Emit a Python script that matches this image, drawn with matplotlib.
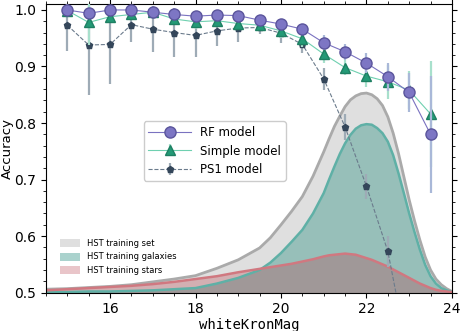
import numpy as np
import matplotlib
matplotlib.use("Agg")
import matplotlib.pyplot as plt
from matplotlib.ticker import MultipleLocator
from matplotlib.patches import Patch

# ---- data ----
mag = [15.0, 15.5, 16.0, 16.5, 17.0, 17.5, 18.0, 18.5, 19.0, 19.5, 20.0,
       20.5, 21.0, 21.5, 22.0, 22.5, 23.0, 23.5]
rf_acc = [1.0, 0.994, 1.0, 1.0, 0.996, 0.992, 0.989, 0.991, 0.990, 0.982,
          0.975, 0.966, 0.942, 0.926, 0.906, 0.882, 0.854, 0.780]
rf_err = [0.004, 0.006, 0.004, 0.004, 0.005, 0.006, 0.006, 0.006, 0.006, 0.008,
          0.009, 0.010, 0.013, 0.014, 0.018, 0.025, 0.034, 0.104]
simple_acc = [0.999, 0.978, 0.988, 0.992, 0.996, 0.984, 0.979, 0.981, 0.976, 0.973,
              0.963, 0.949, 0.922, 0.898, 0.883, 0.873, 0.858, 0.816]
simple_err = [0.005, 0.040, 0.010, 0.008, 0.006, 0.010, 0.012, 0.010, 0.010, 0.010,
              0.012, 0.014, 0.016, 0.013, 0.020, 0.030, 0.034, 0.094]
ps1_mag = [15.0, 15.5, 16.0, 16.5, 17.0, 17.5, 18.0, 18.5, 19.0, 19.5, 20.0,
           20.5, 21.0, 21.5, 22.0, 22.5, 23.0]
ps1_acc = [0.973, 0.938, 0.939, 0.974, 0.966, 0.960, 0.955, 0.963, 0.968, 0.969,
           0.959, 0.939, 0.878, 0.793, 0.688, 0.573, 0.380]
ps1_err = [0.045, 0.088, 0.070, 0.030, 0.041, 0.044, 0.038, 0.027, 0.024, 0.012,
           0.018, 0.016, 0.019, 0.023, 0.022, 0.027, 0.030]

kde_mag = [14.5, 15.0, 15.5, 16.0, 16.5, 17.0, 17.5, 18.0, 18.5, 19.0, 19.5, 19.75,
           20.0, 20.25, 20.5, 20.75, 21.0, 21.125, 21.25, 21.375, 21.5, 21.625,
           21.75, 21.875, 22.0, 22.125, 22.25, 22.375, 22.5, 22.625, 22.75, 22.875,
           23.0, 23.125, 23.25, 23.375, 23.5, 23.625, 23.75, 23.875, 24.0]
kde_all = [0.506, 0.507, 0.509, 0.511, 0.514, 0.519, 0.524, 0.530, 0.543, 0.558, 0.579, 0.597,
           0.620, 0.644, 0.670, 0.706, 0.749, 0.772, 0.794, 0.812, 0.829, 0.841,
           0.848, 0.852, 0.853, 0.850, 0.843, 0.831, 0.811, 0.782, 0.746, 0.705,
           0.664, 0.627, 0.593, 0.563, 0.540, 0.524, 0.514, 0.507, 0.502]
kde_gal = [0.501, 0.501, 0.502, 0.502, 0.503, 0.504, 0.506, 0.508, 0.516, 0.526, 0.540, 0.553,
           0.570, 0.590, 0.611, 0.640, 0.676, 0.700, 0.723, 0.745, 0.764, 0.779,
           0.790, 0.796, 0.798, 0.797, 0.791, 0.782, 0.767, 0.743, 0.711, 0.676,
           0.640, 0.607, 0.576, 0.549, 0.529, 0.516, 0.508, 0.504, 0.501]
kde_star = [0.504, 0.506, 0.508, 0.510, 0.512, 0.515, 0.519, 0.524, 0.529, 0.536, 0.542, 0.545,
            0.548, 0.551, 0.555, 0.559, 0.564, 0.566, 0.567, 0.568, 0.569, 0.568,
            0.567, 0.564, 0.561, 0.558, 0.554, 0.550, 0.546, 0.541, 0.536, 0.531,
            0.526, 0.521, 0.516, 0.512, 0.508, 0.505, 0.503, 0.502, 0.501]
base = 0.5

fig = plt.figure(figsize=(4.64, 3.31), dpi=100)
ax = fig.add_axes([0.099, 0.116, 0.875, 0.871])

# KDE fills
ax.fill_between(kde_mag, base, kde_all, color="#c0c0c0", alpha=0.5, lw=0, zorder=1)
ax.plot(kde_mag, kde_all, color="#aaaaaa", lw=2, zorder=2, solid_joinstyle="round")
ax.fill_between(kde_mag, base, kde_gal, color="#2b8f82", alpha=0.4, lw=0, zorder=1)
ax.plot(kde_mag, kde_gal, color="#5fb0a6", lw=1.8, zorder=2, solid_joinstyle="round")
ax.fill_between(kde_mag, base, kde_star, color="#b8404c", alpha=0.3, lw=0, zorder=1)
ax.plot(kde_mag, kde_star, color="#d07880", lw=1.8, zorder=2, solid_joinstyle="round")

# accuracy curves
ps1 = ax.errorbar(ps1_mag, ps1_acc, yerr=ps1_err, fmt="p", ls="--", lw=0.8,
                  color="#6b7b8c", mfc="#34465a", mec="#34465a", ms=5,
                  ecolor="#9eabb6", elinewidth=1.6, zorder=4, label="PS1 model")
simple = ax.errorbar(mag, simple_acc, yerr=simple_err, fmt="^", ls="-", lw=0.8,
                     color="#6fd0b0", mfc="#239a76", mec="#1e7f62", ms=6.5,
                     ecolor="#a8e0cc", elinewidth=1.6, zorder=5, label="Simple model")
rf = ax.errorbar(mag, rf_acc, yerr=rf_err, fmt="o", ls="-", lw=0.8,
                 color="#7a72c0", mfc="#7d76c4", mec="#5b559c", ms=8,
                 ecolor="#a9b8d8", elinewidth=1.6, zorder=6, label="RF model")

ax.set_xlim(14.5, 24)
ax.set_ylim(0.5, 1.01)
ax.xaxis.set_major_locator(MultipleLocator(2))
ax.xaxis.set_minor_locator(MultipleLocator(0.5))
ax.yaxis.set_major_locator(MultipleLocator(0.1))
ax.yaxis.set_minor_locator(MultipleLocator(0.02))
ax.tick_params(which="both", direction="out", top=True, right=True, labelsize=10)
ax.tick_params(which="major", length=3.5)
ax.tick_params(which="minor", length=2)

ax.set_xlabel("whiteKronMag", family="DejaVu Sans Mono", fontsize=10, labelpad=1)
ax.set_ylabel("Accuracy", fontsize=9.5)
ax.yaxis.set_label_coords(-0.079, 0.5)

leg1 = ax.legend(handles=[rf, simple, ps1], loc="upper left",
                 bbox_to_anchor=(0.226, 0.614), fontsize=8.5, framealpha=1,
                 handlelength=3.6, borderpad=0.4, labelspacing=0.45)
ax.add_artist(leg1)

patches = [Patch(facecolor="#c0c0c0", alpha=0.5, label="HST training set"),
           Patch(facecolor="#2b8f82", alpha=0.4, label="HST training galaxies"),
           Patch(facecolor="#b8404c", alpha=0.3, label="HST training stars")]
ax.legend(handles=patches, loc="lower left", bbox_to_anchor=(0.015, 0.035),
          frameon=False, fontsize=6, handlelength=2.4, handleheight=1.1,
          handletextpad=0.9, labelspacing=0.55)

fig.savefig("out.png", dpi=100)
